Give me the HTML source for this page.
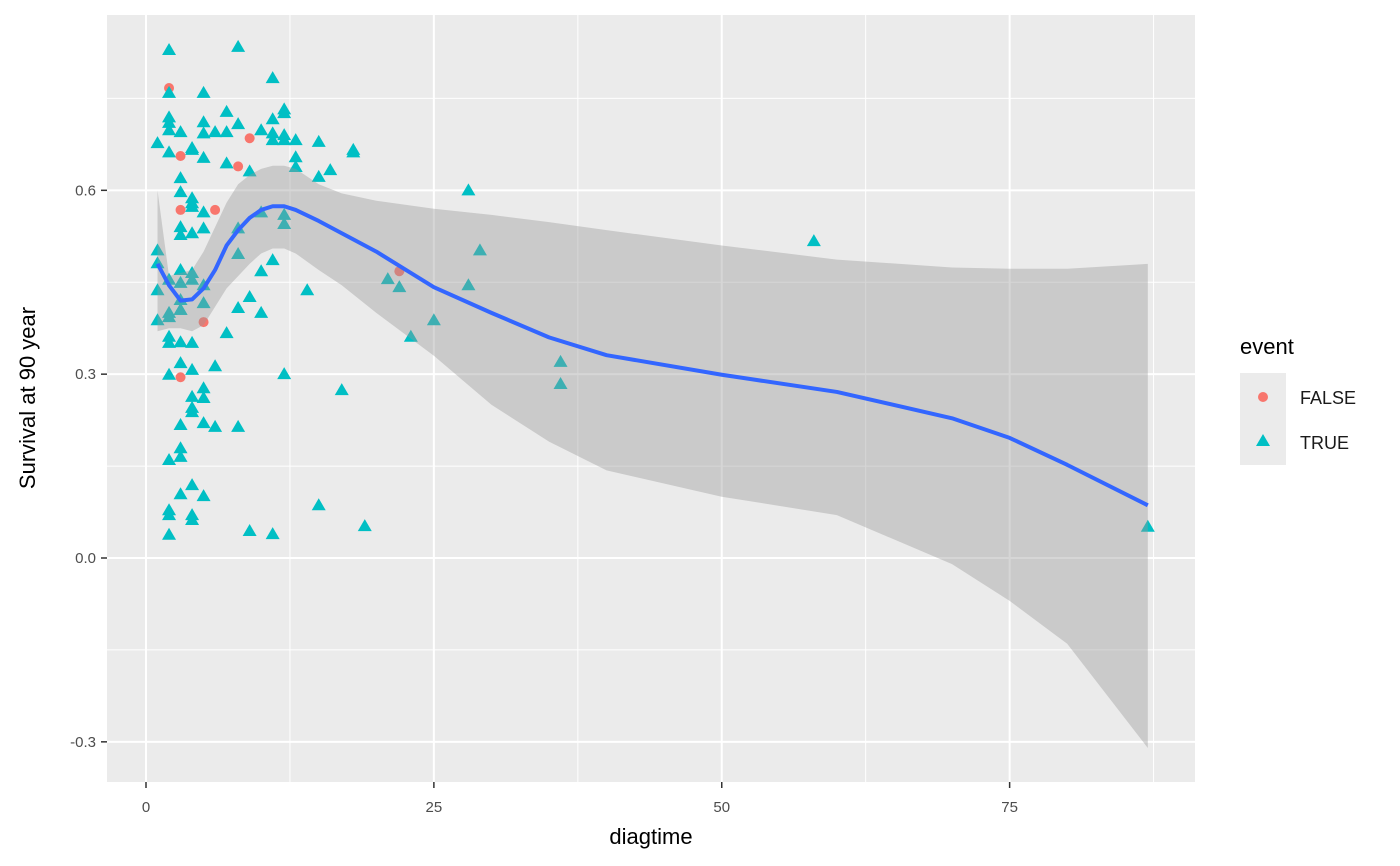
<!DOCTYPE html>
<html><head><meta charset="utf-8"><style>body{margin:0;background:#fff}svg{display:block;font-family:"Liberation Sans","DejaVu Sans",sans-serif}</style></head>
<body>
<svg id="chart" width="1400" height="866">
<rect x="107" y="15" width="1088" height="767" fill="#ebebeb"/>
<g id="grid"></g><g id="pts"></g><g id="band"></g><g id="line"></g><g id="axes"></g>
<text x="651" y="844" font-size="22" text-anchor="middle" fill="#000">diagtime</text>
<text transform="translate(35,398) rotate(-90)" font-size="22" text-anchor="middle" fill="#000">Survival at 90 year</text>
<g>
<text x="1240" y="354" font-size="22">event</text>
<rect x="1240" y="373" width="46" height="92" fill="#ebebeb"/>
<circle cx="1263" cy="397" r="5" fill="#f8766d"/>
<polygon points="1263,434 1270,446 1256,446" fill="#00bfc4"/>
<text x="1300" y="404" font-size="18" fill="#1a1a1a">FALSE</text>
<text x="1300" y="449" font-size="18" fill="#1a1a1a">TRUE</text>
</g>
</svg>
<script>
const xTicks=[0,25,50,75];
const yTicks=[-0.3,0,0.3,0.6];
const yTickLabels=["-0.3","0.0","0.3","0.6"];
const trueX=[1,1,1,1,1,2,2,2,2,2,2,2,2,2,2,2,2,2,2,2,2,3,3,3,3,3,3,3,3,3,3,3,3,3,3,3,3,4,4,4,4,4,4,4,4,4,4,4,4,4,4,4,4,5,5,5,5,5,5,5,5,5,5,5,5,6,6,6,7,7,7,7,8,8,8,8,8,8,9,9,9,10,10,10,10,11,11,11,11,11,11,12,12,12,12,12,12,12,13,13,13,14,15,15,15,16,17,18,18,19,21,22,23,25,28,28,29,36,36,58,87];
const trueY=[0.677,0.502,0.481,0.437,0.388,0.829,0.759,0.719,0.710,0.698,0.662,0.454,0.400,0.393,0.361,0.351,0.299,0.160,0.078,0.070,0.038,0.695,0.620,0.597,0.540,0.527,0.470,0.449,0.421,0.405,0.352,0.318,0.217,0.179,0.165,0.104,0.405,0.669,0.666,0.587,0.579,0.573,0.530,0.465,0.454,0.351,0.307,0.263,0.245,0.238,0.119,0.070,0.062,0.759,0.711,0.693,0.653,0.564,0.538,0.445,0.416,0.277,0.261,0.220,0.101,0.695,0.313,0.214,0.728,0.695,0.644,0.367,0.834,0.708,0.538,0.496,0.408,0.214,0.631,0.426,0.044,0.698,0.564,0.468,0.400,0.783,0.716,0.693,0.682,0.486,0.039,0.732,0.726,0.690,0.682,0.560,0.545,0.300,0.682,0.654,0.638,0.437,0.679,0.622,0.086,0.633,0.274,0.666,0.662,0.052,0.455,0.442,0.361,0.388,0.600,0.445,0.502,0.320,0.284,0.517,0.051];
const falseX=[2,3,9,8,3,6,5,3,22];
const falseY=[0.767,0.656,0.685,0.639,0.568,0.568,0.385,0.295,0.468];
const fitX=[1,2,3,4,5,6,7,8,9,10,11,12,13,15,17,20,25,30,35,40,50,60,70,75,80,87];
const fitY=[0.48,0.445,0.42,0.422,0.44,0.47,0.51,0.535,0.555,0.568,0.574,0.574,0.568,0.55,0.53,0.5,0.442,0.40,0.36,0.331,0.299,0.271,0.228,0.196,0.152,0.086];
const upperY=[0.60,0.46,0.465,0.47,0.50,0.54,0.58,0.61,0.625,0.635,0.64,0.64,0.635,0.61,0.595,0.583,0.57,0.56,0.548,0.535,0.51,0.487,0.474,0.472,0.472,0.48];
const lowerY=[0.37,0.375,0.375,0.37,0.38,0.41,0.44,0.46,0.48,0.497,0.505,0.505,0.497,0.47,0.445,0.40,0.33,0.25,0.19,0.143,0.10,0.07,-0.01,-0.07,-0.14,-0.31];
const X=v=>146+v*11.515, Y=v=>558-v*612.8;
const NS="http://www.w3.org/2000/svg";
function mk(t,a,p){const e=document.createElementNS(NS,t);for(const k in a)e.setAttribute(k,a[k]);p.appendChild(e);return e;}
const grid=document.getElementById('grid');
for(let i=0;i<xTicks.length;i++){const v=xTicks[i];
 const l=mk('line',{x1:X(v),x2:X(v),y1:15,y2:782,stroke:'#fff','stroke-width':2},grid);
 
 
 const m=mk('line',{x1:X(v+12.5),x2:X(v+12.5),y1:15,y2:782,stroke:'#fff','stroke-width':1},grid);
 
 }
for(let i=0;i<yTicks.length;i++){const v=yTicks[i];
 const l=mk('line',{x1:107,x2:1195,y1:Y(v),y2:Y(v),stroke:'#fff','stroke-width':2},grid);
 
 
 const m=mk('line',{x1:107,x2:1195,y1:Y(v+0.15),y2:Y(v+0.15),stroke:'#fff','stroke-width':1},grid);
 
 }
const ax=document.getElementById('axes');
for(let i=0;i<xTicks.length;i++){
 const t=mk('line',{x1:X(xTicks[i]),x2:X(xTicks[i]),y1:782,y2:788,stroke:'#333','stroke-width':1.5},ax);
 
 
 const s=mk('text',{x:X(xTicks[i]),y:812,'font-size':15,'text-anchor':'middle',fill:'#4d4d4d'},ax);s.textContent=xTicks[i];
 
 }
for(let i=0;i<yTicks.length;i++){
 const t=mk('line',{x1:101,x2:107,y1:Y(yTicks[i]),y2:Y(yTicks[i]),stroke:'#333','stroke-width':1.5},ax);
 
 
 const s=mk('text',{x:96,y:Y(yTicks[i])+5,'font-size':15,'text-anchor':'end',fill:'#4d4d4d'},ax);s.textContent=yTickLabels[i];
 
 }
const pts=document.getElementById('pts');
for(let i=0;i<falseX.length;i++){const c=mk('circle',{cx:X(falseX[i]),cy:Y(falseY[i]),r:5,fill:'#f8766d'},pts);
 
 }
for(let i=0;i<trueX.length;i++){const x=X(trueX[i]),y=Y(trueY[i]);
 const p=mk('polygon',{points:`${x},${y-7} ${x+7},${y+5} ${x-7},${y+5}`,fill:'#00bfc4'},pts);
 
 }
let d='';for(let i=0;i<fitX.length;i++)d+=(i?'L':'M')+X(fitX[i])+','+Y(upperY[i]);
for(let i=fitX.length-1;i>=0;i--)d+='L'+X(fitX[i])+','+Y(lowerY[i]);
const b=mk('path',{d:d+'Z',fill:'#999','fill-opacity':0.4},document.getElementById('band'));


let dl='';for(let i=0;i<fitX.length;i++)dl+=(i?'L':'M')+X(fitX[i])+','+Y(fitY[i]);
const ln=mk('path',{d:dl,fill:'none',stroke:'#3366ff','stroke-width':4,'stroke-linejoin':'round'},document.getElementById('line'));


</script>
</body></html>
